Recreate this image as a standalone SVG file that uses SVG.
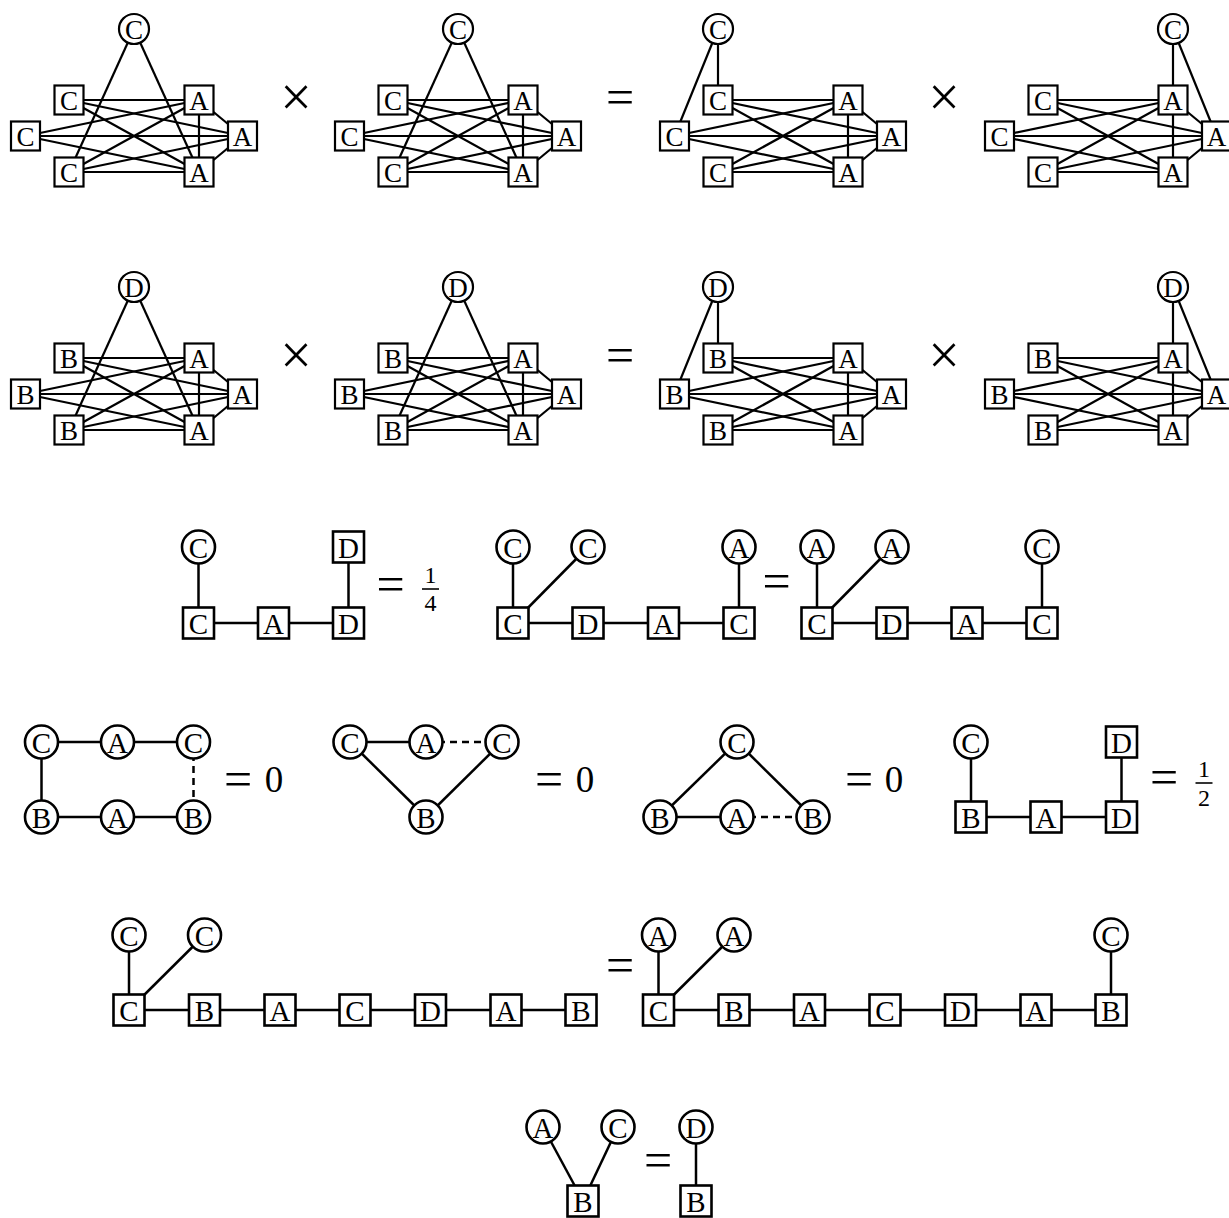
<svg xmlns="http://www.w3.org/2000/svg" width="1229" height="1218" viewBox="0 0 1229 1218">
<style>
.e1{stroke:#000;stroke-width:2.2;fill:none}
.e2{stroke:#000;stroke-width:2.5;fill:none}
.d2{stroke:#000;stroke-width:2.5;fill:none;stroke-dasharray:7 5}
.n1{fill:#fff;stroke:#000;stroke-width:2.2}
.n2{fill:#fff;stroke:#000;stroke-width:2.6}
.t1{font-family:"Liberation Serif",serif;font-size:27px;text-anchor:middle;fill:#000}
.t2{font-family:"Liberation Serif",serif;font-size:29px;text-anchor:middle;fill:#000}
.op{font-family:"Liberation Serif",serif;font-size:50px;text-anchor:middle;fill:#000}
.x{font-family:"Liberation Serif",serif;font-size:56px;text-anchor:middle;fill:#000}
.dig{font-family:"Liberation Serif",serif;font-size:37px;text-anchor:middle;fill:#000}
.fr{font-family:"Liberation Serif",serif;font-size:24px;text-anchor:middle;fill:#000}
.bar{stroke:#000;stroke-width:1.6}
</style>
<defs>
<g id="k33">
<line x1="69" y1="100" x2="199" y2="100"/>
<line x1="69" y1="100" x2="242.5" y2="136"/>
<line x1="69" y1="100" x2="199" y2="172"/>
<line x1="25.5" y1="136" x2="199" y2="100"/>
<line x1="25.5" y1="136" x2="242.5" y2="136"/>
<line x1="25.5" y1="136" x2="199" y2="172"/>
<line x1="69" y1="172" x2="199" y2="100"/>
<line x1="69" y1="172" x2="242.5" y2="136"/>
<line x1="69" y1="172" x2="199" y2="172"/>
<line x1="199" y1="100" x2="199" y2="172"/>
<line x1="199" y1="100" x2="242.5" y2="136"/>
<line x1="242.5" y1="136" x2="199" y2="172"/>
</g>
</defs>
<rect width="1229" height="1218" fill="#fff"/>
<g id="connectors">
<g class="e1">
<use href="#k33"/>
<line x1="134" y1="29" x2="69" y2="172"/><line x1="134" y1="29" x2="199" y2="172"/>
<g transform="translate(324,0)"><use href="#k33"/>
<line x1="134" y1="29" x2="69" y2="172"/><line x1="134" y1="29" x2="199" y2="172"/></g>
<g transform="translate(649,0)"><use href="#k33"/>
<line x1="69" y1="29" x2="69" y2="100"/><line x1="69" y1="29" x2="25.5" y2="136"/></g>
<g transform="translate(974,0)"><use href="#k33"/>
<line x1="199" y1="29" x2="199" y2="100"/><line x1="199" y1="29" x2="242.5" y2="136"/></g>
<g transform="translate(0,258)"><use href="#k33"/>
<line x1="134" y1="29" x2="69" y2="172"/><line x1="134" y1="29" x2="199" y2="172"/></g>
<g transform="translate(324,258)"><use href="#k33"/>
<line x1="134" y1="29" x2="69" y2="172"/><line x1="134" y1="29" x2="199" y2="172"/></g>
<g transform="translate(649,258)"><use href="#k33"/>
<line x1="69" y1="29" x2="69" y2="100"/><line x1="69" y1="29" x2="25.5" y2="136"/></g>
<g transform="translate(974,258)"><use href="#k33"/>
<line x1="199" y1="29" x2="199" y2="100"/><line x1="199" y1="29" x2="242.5" y2="136"/></g>
</g>
<g class="e2">
<line x1="198.5" y1="547" x2="198.5" y2="623"/>
<line x1="198.5" y1="623" x2="348.5" y2="623"/>
<line x1="348.5" y1="547" x2="348.5" y2="623"/>
<line x1="513" y1="547" x2="513" y2="623"/>
<line x1="588" y1="547" x2="513" y2="623"/>
<line x1="513" y1="623" x2="739" y2="623"/>
<line x1="739" y1="547" x2="739" y2="623"/>
<line x1="817" y1="547" x2="817" y2="623"/>
<line x1="892" y1="547" x2="817" y2="623"/>
<line x1="817" y1="623" x2="1042" y2="623"/>
<line x1="1042" y1="547" x2="1042" y2="623"/>
<line x1="41.5" y1="742" x2="193.5" y2="742"/>
<line x1="41.5" y1="817" x2="193.5" y2="817"/>
<line x1="41.5" y1="742" x2="41.5" y2="817"/>
<line x1="350" y1="742" x2="426" y2="742"/>
<line x1="350" y1="742" x2="426" y2="817"/>
<line x1="502" y1="742" x2="426" y2="817"/>
<line x1="737" y1="742" x2="660" y2="817"/>
<line x1="737" y1="742" x2="813" y2="817"/>
<line x1="660" y1="817" x2="737" y2="817"/>
<line x1="971" y1="742" x2="971" y2="817"/>
<line x1="971" y1="817" x2="1121.5" y2="817"/>
<line x1="1121.5" y1="742" x2="1121.5" y2="817"/>
<line x1="129" y1="935" x2="129" y2="1010"/>
<line x1="204.5" y1="935" x2="129" y2="1010"/>
<line x1="129" y1="1010" x2="581" y2="1010"/>
<line x1="658.5" y1="935" x2="658.5" y2="1010"/>
<line x1="734" y1="935" x2="658.5" y2="1010"/>
<line x1="658.5" y1="1010" x2="1111" y2="1010"/>
<line x1="1111" y1="935" x2="1111" y2="1010"/>
<line x1="543" y1="1127" x2="583" y2="1201"/>
<line x1="618" y1="1127" x2="583" y2="1201"/>
<line x1="696" y1="1127" x2="696" y2="1201"/>
</g>
<g class="d2">
<line x1="193.5" y1="742" x2="193.5" y2="817"/>
<line x1="426" y1="742" x2="502" y2="742"/>
<line x1="737" y1="817" x2="813" y2="817"/>
</g>
</g>

<g id="r1g1">
<g id="r1g1-top"><circle class="n1" cx="134" cy="29" r="15"/><text class="t1" x="134" y="38.5">C</text></g>
<g id="r1g1-c1"><rect class="n1" x="54.5" y="85.5" width="29" height="29"/><text class="t1" x="69" y="109.5">C</text></g>
<g id="r1g1-c2"><rect class="n1" x="11" y="121.5" width="29" height="29"/><text class="t1" x="25.5" y="145.5">C</text></g>
<g id="r1g1-c3"><rect class="n1" x="54.5" y="157.5" width="29" height="29"/><text class="t1" x="69" y="181.5">C</text></g>
<g id="r1g1-a1"><rect class="n1" x="184.5" y="85.5" width="29" height="29"/><text class="t1" x="199" y="109.5">A</text></g>
<g id="r1g1-a2"><rect class="n1" x="228" y="121.5" width="29" height="29"/><text class="t1" x="242.5" y="145.5">A</text></g>
<g id="r1g1-a3"><rect class="n1" x="184.5" y="157.5" width="29" height="29"/><text class="t1" x="199" y="181.5">A</text></g>
</g>
<g id="r1g2" transform="translate(324,0)">
<g id="r1g2-top"><circle class="n1" cx="134" cy="29" r="15"/><text class="t1" x="134" y="38.5">C</text></g>
<g id="r1g2-c1"><rect class="n1" x="54.5" y="85.5" width="29" height="29"/><text class="t1" x="69" y="109.5">C</text></g>
<g id="r1g2-c2"><rect class="n1" x="11" y="121.5" width="29" height="29"/><text class="t1" x="25.5" y="145.5">C</text></g>
<g id="r1g2-c3"><rect class="n1" x="54.5" y="157.5" width="29" height="29"/><text class="t1" x="69" y="181.5">C</text></g>
<g id="r1g2-a1"><rect class="n1" x="184.5" y="85.5" width="29" height="29"/><text class="t1" x="199" y="109.5">A</text></g>
<g id="r1g2-a2"><rect class="n1" x="228" y="121.5" width="29" height="29"/><text class="t1" x="242.5" y="145.5">A</text></g>
<g id="r1g2-a3"><rect class="n1" x="184.5" y="157.5" width="29" height="29"/><text class="t1" x="199" y="181.5">A</text></g>
</g>
<g id="r1g3" transform="translate(649,0)">
<g id="r1g3-top"><circle class="n1" cx="69" cy="29" r="15"/><text class="t1" x="69" y="38.5">C</text></g>
<g id="r1g3-c1"><rect class="n1" x="54.5" y="85.5" width="29" height="29"/><text class="t1" x="69" y="109.5">C</text></g>
<g id="r1g3-c2"><rect class="n1" x="11" y="121.5" width="29" height="29"/><text class="t1" x="25.5" y="145.5">C</text></g>
<g id="r1g3-c3"><rect class="n1" x="54.5" y="157.5" width="29" height="29"/><text class="t1" x="69" y="181.5">C</text></g>
<g id="r1g3-a1"><rect class="n1" x="184.5" y="85.5" width="29" height="29"/><text class="t1" x="199" y="109.5">A</text></g>
<g id="r1g3-a2"><rect class="n1" x="228" y="121.5" width="29" height="29"/><text class="t1" x="242.5" y="145.5">A</text></g>
<g id="r1g3-a3"><rect class="n1" x="184.5" y="157.5" width="29" height="29"/><text class="t1" x="199" y="181.5">A</text></g>
</g>
<g id="r1g4" transform="translate(974,0)">
<g id="r1g4-top"><circle class="n1" cx="199" cy="29" r="15"/><text class="t1" x="199" y="38.5">C</text></g>
<g id="r1g4-c1"><rect class="n1" x="54.5" y="85.5" width="29" height="29"/><text class="t1" x="69" y="109.5">C</text></g>
<g id="r1g4-c2"><rect class="n1" x="11" y="121.5" width="29" height="29"/><text class="t1" x="25.5" y="145.5">C</text></g>
<g id="r1g4-c3"><rect class="n1" x="54.5" y="157.5" width="29" height="29"/><text class="t1" x="69" y="181.5">C</text></g>
<g id="r1g4-a1"><rect class="n1" x="184.5" y="85.5" width="29" height="29"/><text class="t1" x="199" y="109.5">A</text></g>
<g id="r1g4-a2"><rect class="n1" x="228" y="121.5" width="29" height="29"/><text class="t1" x="242.5" y="145.5">A</text></g>
<g id="r1g4-a3"><rect class="n1" x="184.5" y="157.5" width="29" height="29"/><text class="t1" x="199" y="181.5">A</text></g>
</g>

<g id="r2g1" transform="translate(0,258)">
<g id="r2g1-top"><circle class="n1" cx="134" cy="29" r="15"/><text class="t1" x="134" y="38.5">D</text></g>
<g id="r2g1-b1"><rect class="n1" x="54.5" y="85.5" width="29" height="29"/><text class="t1" x="69" y="109.5">B</text></g>
<g id="r2g1-b2"><rect class="n1" x="11" y="121.5" width="29" height="29"/><text class="t1" x="25.5" y="145.5">B</text></g>
<g id="r2g1-b3"><rect class="n1" x="54.5" y="157.5" width="29" height="29"/><text class="t1" x="69" y="181.5">B</text></g>
<g id="r2g1-a1"><rect class="n1" x="184.5" y="85.5" width="29" height="29"/><text class="t1" x="199" y="109.5">A</text></g>
<g id="r2g1-a2"><rect class="n1" x="228" y="121.5" width="29" height="29"/><text class="t1" x="242.5" y="145.5">A</text></g>
<g id="r2g1-a3"><rect class="n1" x="184.5" y="157.5" width="29" height="29"/><text class="t1" x="199" y="181.5">A</text></g>
</g>
<g id="r2g2" transform="translate(324,258)">
<g id="r2g2-top"><circle class="n1" cx="134" cy="29" r="15"/><text class="t1" x="134" y="38.5">D</text></g>
<g id="r2g2-b1"><rect class="n1" x="54.5" y="85.5" width="29" height="29"/><text class="t1" x="69" y="109.5">B</text></g>
<g id="r2g2-b2"><rect class="n1" x="11" y="121.5" width="29" height="29"/><text class="t1" x="25.5" y="145.5">B</text></g>
<g id="r2g2-b3"><rect class="n1" x="54.5" y="157.5" width="29" height="29"/><text class="t1" x="69" y="181.5">B</text></g>
<g id="r2g2-a1"><rect class="n1" x="184.5" y="85.5" width="29" height="29"/><text class="t1" x="199" y="109.5">A</text></g>
<g id="r2g2-a2"><rect class="n1" x="228" y="121.5" width="29" height="29"/><text class="t1" x="242.5" y="145.5">A</text></g>
<g id="r2g2-a3"><rect class="n1" x="184.5" y="157.5" width="29" height="29"/><text class="t1" x="199" y="181.5">A</text></g>
</g>
<g id="r2g3" transform="translate(649,258)">
<g id="r2g3-top"><circle class="n1" cx="69" cy="29" r="15"/><text class="t1" x="69" y="38.5">D</text></g>
<g id="r2g3-b1"><rect class="n1" x="54.5" y="85.5" width="29" height="29"/><text class="t1" x="69" y="109.5">B</text></g>
<g id="r2g3-b2"><rect class="n1" x="11" y="121.5" width="29" height="29"/><text class="t1" x="25.5" y="145.5">B</text></g>
<g id="r2g3-b3"><rect class="n1" x="54.5" y="157.5" width="29" height="29"/><text class="t1" x="69" y="181.5">B</text></g>
<g id="r2g3-a1"><rect class="n1" x="184.5" y="85.5" width="29" height="29"/><text class="t1" x="199" y="109.5">A</text></g>
<g id="r2g3-a2"><rect class="n1" x="228" y="121.5" width="29" height="29"/><text class="t1" x="242.5" y="145.5">A</text></g>
<g id="r2g3-a3"><rect class="n1" x="184.5" y="157.5" width="29" height="29"/><text class="t1" x="199" y="181.5">A</text></g>
</g>
<g id="r2g4" transform="translate(974,258)">
<g id="r2g4-top"><circle class="n1" cx="199" cy="29" r="15"/><text class="t1" x="199" y="38.5">D</text></g>
<g id="r2g4-b1"><rect class="n1" x="54.5" y="85.5" width="29" height="29"/><text class="t1" x="69" y="109.5">B</text></g>
<g id="r2g4-b2"><rect class="n1" x="11" y="121.5" width="29" height="29"/><text class="t1" x="25.5" y="145.5">B</text></g>
<g id="r2g4-b3"><rect class="n1" x="54.5" y="157.5" width="29" height="29"/><text class="t1" x="69" y="181.5">B</text></g>
<g id="r2g4-a1"><rect class="n1" x="184.5" y="85.5" width="29" height="29"/><text class="t1" x="199" y="109.5">A</text></g>
<g id="r2g4-a2"><rect class="n1" x="228" y="121.5" width="29" height="29"/><text class="t1" x="242.5" y="145.5">A</text></g>
<g id="r2g4-a3"><rect class="n1" x="184.5" y="157.5" width="29" height="29"/><text class="t1" x="199" y="181.5">A</text></g>
</g>

<g id="r3g1">
<g id="r3g1-n1"><circle class="n2" cx="198.5" cy="547" r="16.5"/><text class="t2" x="198.5" y="557.5">C</text></g>
<g id="r3g1-n2"><rect class="n2" x="183" y="607.5" width="31" height="31"/><text class="t2" x="198.5" y="633.5">C</text></g>
<g id="r3g1-n3"><rect class="n2" x="258" y="607.5" width="31" height="31"/><text class="t2" x="273.5" y="633.5">A</text></g>
<g id="r3g1-n4"><rect class="n2" x="333" y="607.5" width="31" height="31"/><text class="t2" x="348.5" y="633.5">D</text></g>
<g id="r3g1-n5"><rect class="n2" x="333" y="531.5" width="31" height="31"/><text class="t2" x="348.5" y="557.5">D</text></g>
</g>
<g id="r3g2">
<g id="r3g2-n1"><circle class="n2" cx="513" cy="547" r="16.5"/><text class="t2" x="513" y="557.5">C</text></g>
<g id="r3g2-n2"><circle class="n2" cx="588" cy="547" r="16.5"/><text class="t2" x="588" y="557.5">C</text></g>
<g id="r3g2-n3"><circle class="n2" cx="739" cy="547" r="16.5"/><text class="t2" x="739" y="557.5">A</text></g>
<g id="r3g2-n4"><rect class="n2" x="497.5" y="607.5" width="31" height="31"/><text class="t2" x="513" y="633.5">C</text></g>
<g id="r3g2-n5"><rect class="n2" x="572.5" y="607.5" width="31" height="31"/><text class="t2" x="588" y="633.5">D</text></g>
<g id="r3g2-n6"><rect class="n2" x="648" y="607.5" width="31" height="31"/><text class="t2" x="663.5" y="633.5">A</text></g>
<g id="r3g2-n7"><rect class="n2" x="723.5" y="607.5" width="31" height="31"/><text class="t2" x="739" y="633.5">C</text></g>
</g>
<g id="r3g3">
<g id="r3g3-n1"><circle class="n2" cx="817" cy="547" r="16.5"/><text class="t2" x="817" y="557.5">A</text></g>
<g id="r3g3-n2"><circle class="n2" cx="892" cy="547" r="16.5"/><text class="t2" x="892" y="557.5">A</text></g>
<g id="r3g3-n3"><circle class="n2" cx="1042" cy="547" r="16.5"/><text class="t2" x="1042" y="557.5">C</text></g>
<g id="r3g3-n4"><rect class="n2" x="801.5" y="607.5" width="31" height="31"/><text class="t2" x="817" y="633.5">C</text></g>
<g id="r3g3-n5"><rect class="n2" x="876.5" y="607.5" width="31" height="31"/><text class="t2" x="892" y="633.5">D</text></g>
<g id="r3g3-n6"><rect class="n2" x="951.5" y="607.5" width="31" height="31"/><text class="t2" x="967" y="633.5">A</text></g>
<g id="r3g3-n7"><rect class="n2" x="1026.5" y="607.5" width="31" height="31"/><text class="t2" x="1042" y="633.5">C</text></g>
</g>

<g id="r4g1">
<g id="r4g1-n1"><circle class="n2" cx="41.5" cy="742" r="16.5"/><text class="t2" x="41.5" y="752.5">C</text></g>
<g id="r4g1-n2"><circle class="n2" cx="117.5" cy="742" r="16.5"/><text class="t2" x="117.5" y="752.5">A</text></g>
<g id="r4g1-n3"><circle class="n2" cx="193.5" cy="742" r="16.5"/><text class="t2" x="193.5" y="752.5">C</text></g>
<g id="r4g1-n4"><circle class="n2" cx="41.5" cy="817" r="16.5"/><text class="t2" x="41.5" y="827.5">B</text></g>
<g id="r4g1-n5"><circle class="n2" cx="117.5" cy="817" r="16.5"/><text class="t2" x="117.5" y="827.5">A</text></g>
<g id="r4g1-n6"><circle class="n2" cx="193.5" cy="817" r="16.5"/><text class="t2" x="193.5" y="827.5">B</text></g>
</g>
<g id="r4g2">
<g id="r4g2-n1"><circle class="n2" cx="350" cy="742" r="16.5"/><text class="t2" x="350" y="752.5">C</text></g>
<g id="r4g2-n2"><circle class="n2" cx="426" cy="742" r="16.5"/><text class="t2" x="426" y="752.5">A</text></g>
<g id="r4g2-n3"><circle class="n2" cx="502" cy="742" r="16.5"/><text class="t2" x="502" y="752.5">C</text></g>
<g id="r4g2-n4"><circle class="n2" cx="426" cy="817" r="16.5"/><text class="t2" x="426" y="827.5">B</text></g>
</g>
<g id="r4g3">
<g id="r4g3-n1"><circle class="n2" cx="737" cy="742" r="16.5"/><text class="t2" x="737" y="752.5">C</text></g>
<g id="r4g3-n2"><circle class="n2" cx="660" cy="817" r="16.5"/><text class="t2" x="660" y="827.5">B</text></g>
<g id="r4g3-n3"><circle class="n2" cx="737" cy="817" r="16.5"/><text class="t2" x="737" y="827.5">A</text></g>
<g id="r4g3-n4"><circle class="n2" cx="813" cy="817" r="16.5"/><text class="t2" x="813" y="827.5">B</text></g>
</g>
<g id="r4g4">
<g id="r4g4-n1"><circle class="n2" cx="971" cy="742" r="16.5"/><text class="t2" x="971" y="752.5">C</text></g>
<g id="r4g4-n2"><rect class="n2" x="1106" y="726.5" width="31" height="31"/><text class="t2" x="1121.5" y="752.5">D</text></g>
<g id="r4g4-n3"><rect class="n2" x="955.5" y="801.5" width="31" height="31"/><text class="t2" x="971" y="827.5">B</text></g>
<g id="r4g4-n4"><rect class="n2" x="1030.5" y="801.5" width="31" height="31"/><text class="t2" x="1046" y="827.5">A</text></g>
<g id="r4g4-n5"><rect class="n2" x="1106" y="801.5" width="31" height="31"/><text class="t2" x="1121.5" y="827.5">D</text></g>
</g>

<g id="r5g1">
<g id="r5g1-n1"><circle class="n2" cx="129" cy="935" r="16.5"/><text class="t2" x="129" y="945.5">C</text></g>
<g id="r5g1-n2"><circle class="n2" cx="204.5" cy="935" r="16.5"/><text class="t2" x="204.5" y="945.5">C</text></g>
<g id="r5g1-n3"><rect class="n2" x="113.5" y="994.5" width="31" height="31"/><text class="t2" x="129" y="1020.5">C</text></g>
<g id="r5g1-n4"><rect class="n2" x="189" y="994.5" width="31" height="31"/><text class="t2" x="204.5" y="1020.5">B</text></g>
<g id="r5g1-n5"><rect class="n2" x="264.5" y="994.5" width="31" height="31"/><text class="t2" x="280" y="1020.5">A</text></g>
<g id="r5g1-n6"><rect class="n2" x="339.5" y="994.5" width="31" height="31"/><text class="t2" x="355" y="1020.5">C</text></g>
<g id="r5g1-n7"><rect class="n2" x="415" y="994.5" width="31" height="31"/><text class="t2" x="430.5" y="1020.5">D</text></g>
<g id="r5g1-n8"><rect class="n2" x="490.5" y="994.5" width="31" height="31"/><text class="t2" x="506" y="1020.5">A</text></g>
<g id="r5g1-n9"><rect class="n2" x="565.5" y="994.5" width="31" height="31"/><text class="t2" x="581" y="1020.5">B</text></g>
</g>
<g id="r5g2">
<g id="r5g2-n1"><circle class="n2" cx="658.5" cy="935" r="16.5"/><text class="t2" x="658.5" y="945.5">A</text></g>
<g id="r5g2-n2"><circle class="n2" cx="734" cy="935" r="16.5"/><text class="t2" x="734" y="945.5">A</text></g>
<g id="r5g2-n3"><circle class="n2" cx="1111" cy="935" r="16.5"/><text class="t2" x="1111" y="945.5">C</text></g>
<g id="r5g2-n4"><rect class="n2" x="643" y="994.5" width="31" height="31"/><text class="t2" x="658.5" y="1020.5">C</text></g>
<g id="r5g2-n5"><rect class="n2" x="718.5" y="994.5" width="31" height="31"/><text class="t2" x="734" y="1020.5">B</text></g>
<g id="r5g2-n6"><rect class="n2" x="794" y="994.5" width="31" height="31"/><text class="t2" x="809.5" y="1020.5">A</text></g>
<g id="r5g2-n7"><rect class="n2" x="869.5" y="994.5" width="31" height="31"/><text class="t2" x="885" y="1020.5">C</text></g>
<g id="r5g2-n8"><rect class="n2" x="945" y="994.5" width="31" height="31"/><text class="t2" x="960.5" y="1020.5">D</text></g>
<g id="r5g2-n9"><rect class="n2" x="1020.5" y="994.5" width="31" height="31"/><text class="t2" x="1036" y="1020.5">A</text></g>
<g id="r5g2-n10"><rect class="n2" x="1095.5" y="994.5" width="31" height="31"/><text class="t2" x="1111" y="1020.5">B</text></g>
</g>

<g id="r6g1">
<g id="r6g1-n1"><circle class="n2" cx="543" cy="1127" r="16.5"/><text class="t2" x="543" y="1137.5">A</text></g>
<g id="r6g1-n2"><circle class="n2" cx="618" cy="1127" r="16.5"/><text class="t2" x="618" y="1137.5">C</text></g>
<g id="r6g1-n3"><rect class="n2" x="567.5" y="1185.5" width="31" height="31"/><text class="t2" x="583" y="1211.5">B</text></g>
</g>
<g id="r6g2">
<g id="r6g2-n1"><circle class="n2" cx="696" cy="1127" r="16.5"/><text class="t2" x="696" y="1137.5">D</text></g>
<g id="r6g2-n2"><rect class="n2" x="680.5" y="1185.5" width="31" height="31"/><text class="t2" x="696" y="1211.5">B</text></g>
</g>

<g id="operators">
<text class="x" x="296" y="116">×</text>
<text class="x" x="944" y="116">×</text>
<text class="op" x="620" y="114">=</text>
<text class="x" x="296" y="374">×</text>
<text class="x" x="944" y="374">×</text>
<text class="op" x="620" y="372">=</text>
<text class="op" x="390.5" y="601">=</text>
<text class="fr" x="430.5" y="583">1</text>
<line class="bar" x1="422" y1="589" x2="439" y2="589"/>
<text class="fr" x="430.5" y="611">4</text>
<text class="op" x="776.5" y="598">=</text>
<text class="op" x="238" y="796">=</text>
<text class="dig" x="274" y="792">0</text>
<text class="op" x="549" y="796">=</text>
<text class="dig" x="585" y="792">0</text>
<text class="op" x="859" y="796">=</text>
<text class="dig" x="894" y="792">0</text>
<text class="op" x="1164" y="794">=</text>
<text class="fr" x="1204" y="777">1</text>
<line class="bar" x1="1195.5" y1="783" x2="1212.5" y2="783"/>
<text class="fr" x="1204" y="806">2</text>
<text class="op" x="620" y="982">=</text>
<text class="op" x="658" y="1177">=</text>
</g>
</svg>
